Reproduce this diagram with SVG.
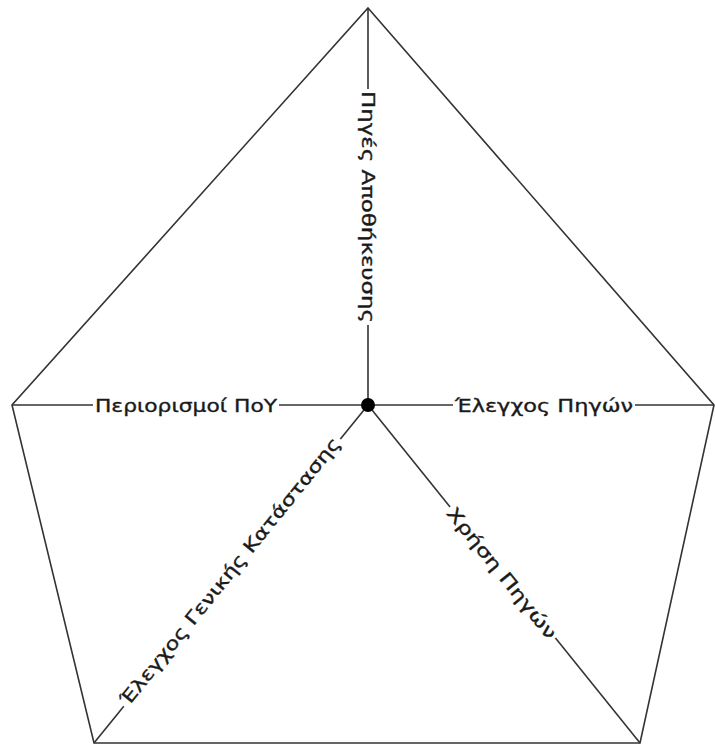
<svg xmlns="http://www.w3.org/2000/svg" width="715" height="746" viewBox="0 0 715 746">
<style>
.edge{fill:none;stroke:#333;stroke-width:1.6}
.bg{fill:#fff}
.lbl{font-family:"DejaVu Sans","Liberation Sans",sans-serif;font-size:18px;fill:#1a1a1a;stroke:#1a1a1a;stroke-width:0.35;text-anchor:middle}
</style>
<rect width="715" height="746" fill="#fff"/>
<g id="connectors">
<polygon class="edge" points="368,8 714,405 640,743 94,743 12,405"/>
<line class="edge" x1="368" y1="405" x2="368" y2="8"/>
<line class="edge" x1="368" y1="405" x2="12" y2="405"/>
<line class="edge" x1="368" y1="405" x2="714" y2="405"/>
<line class="edge" x1="368" y1="405" x2="94" y2="743"/>
<line class="edge" x1="368" y1="405" x2="640" y2="743"/>
<g transform="translate(368,207) rotate(90)">
<rect class="bg" x="-118" y="-10" width="236" height="20"/>
<text class="lbl" x="0" y="6.5" textLength="232" lengthAdjust="spacingAndGlyphs">Πηγές Αποθήκευσης</text>
</g>
<g transform="translate(186,405)">
<rect class="bg" x="-93" y="-10" width="186" height="20"/>
<text class="lbl" x="0" y="6.5" textLength="182" lengthAdjust="spacingAndGlyphs">Περιορισμοί ΠοΥ</text>
</g>
<g transform="translate(544,405)">
<rect class="bg" x="-91" y="-10" width="182" height="20"/>
<text class="lbl" x="0" y="6.5" textLength="178" lengthAdjust="spacingAndGlyphs">Έλεγχος Πηγών</text>
</g>
<g transform="translate(230,571) rotate(-51.07)">
<rect class="bg" x="-172" y="-10" width="344" height="20"/>
<text class="lbl" x="0" y="6.5" textLength="338" lengthAdjust="spacingAndGlyphs">Έλεγχος Γενικής Κατάστασης</text>
</g>
<g transform="translate(502,573) rotate(51.17)">
<rect class="bg" x="-84" y="-10" width="168" height="20"/>
<text class="lbl" x="0" y="6.5" textLength="163" lengthAdjust="spacingAndGlyphs">Χρήση Πηγών</text>
</g>
</g>
<g id="center"><circle cx="368" cy="405" r="7" fill="#000"/></g>
</svg>
